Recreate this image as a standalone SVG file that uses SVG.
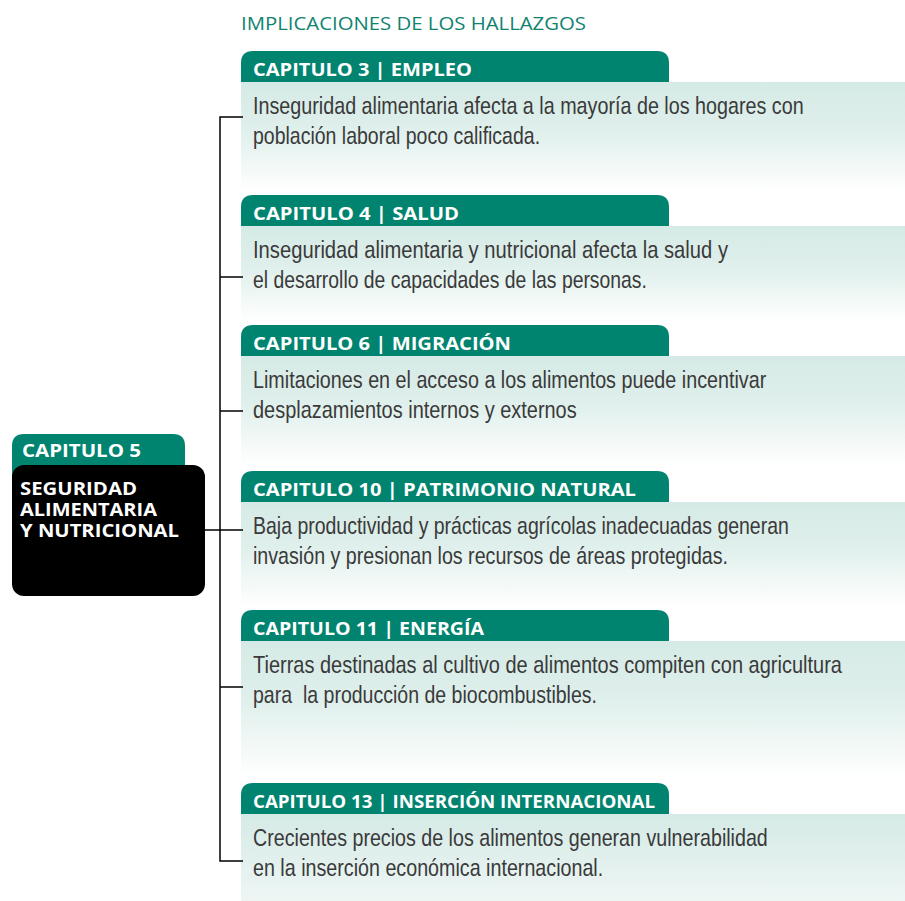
<svg xmlns="http://www.w3.org/2000/svg" width="905" height="901" viewBox="0 0 905 901">
<defs>
<linearGradient id="bodyGrad" x1="0" y1="0" x2="0" y2="1">
<stop offset="0" stop-color="#d5eae6"/>
<stop offset="0.45" stop-color="#e0f0ec"/>
<stop offset="1" stop-color="#ffffff"/>
</linearGradient>
<linearGradient id="bodyGradLast" x1="0" y1="0" x2="0" y2="1">
<stop offset="0" stop-color="#d5eae6"/>
<stop offset="1" stop-color="#eef6f4"/>
</linearGradient>
<style>
.tab{fill:#008470;}
.body{fill:url(#bodyGrad);}
.tabtxt{font-family:"Open Sans","Liberation Sans",sans-serif;font-weight:bold;font-size:18px;fill:#ffffff;}
.boxtxt{font-family:"Open Sans","Liberation Sans",sans-serif;font-weight:bold;font-size:17px;fill:#ffffff;}
.txt{font-family:"Liberation Sans","DejaVu Sans",sans-serif;font-size:24px;fill:#3a3a3a;white-space:pre;}
.title{font-family:"Open Sans","Liberation Sans",sans-serif;font-size:19px;fill:#10836f;}
.conn{stroke:#000;stroke-width:1.5;fill:none;}
</style>
</defs>
<rect width="905" height="901" fill="#ffffff"/>
<text class="title" x="241" y="30" textLength="345" lengthAdjust="spacingAndGlyphs">IMPLICACIONES DE LOS HALLAZGOS</text>

<g id="cap3">
<rect class="body" x="241" y="82" width="664" height="110"/>
<path class="tab" d="M241,82V63Q241,51 253,51H657Q669,51 669,63V82Z"/>
<text class="tabtxt" x="253" y="76" textLength="219" lengthAdjust="spacingAndGlyphs">CAPITULO 3 | EMPLEO</text>
<text class="txt" transform="translate(253,114) scale(0.78,1)" textLength="706" lengthAdjust="spacingAndGlyphs">Inseguridad alimentaria afecta a la mayoría de los hogares con</text>
<text class="txt" transform="translate(253,144) scale(0.78,1)" textLength="368" lengthAdjust="spacingAndGlyphs">población laboral poco calificada.</text>
</g>

<g id="cap4">
<rect class="body" x="241" y="226" width="664" height="96"/>
<path class="tab" d="M241,226V207Q241,195 253,195H657Q669,195 669,207V226Z"/>
<text class="tabtxt" x="253" y="220" textLength="206" lengthAdjust="spacingAndGlyphs">CAPITULO 4 | SALUD</text>
<text class="txt" transform="translate(253,258) scale(0.78,1)" textLength="609" lengthAdjust="spacingAndGlyphs">Inseguridad alimentaria y nutricional afecta la salud y</text>
<text class="txt" transform="translate(253,288) scale(0.78,1)" textLength="505" lengthAdjust="spacingAndGlyphs">el desarrollo de capacidades de las personas.</text>
</g>

<g id="cap6">
<rect class="body" x="241" y="356" width="664" height="110"/>
<path class="tab" d="M241,356V337Q241,325 253,325H657Q669,325 669,337V356Z"/>
<text class="tabtxt" x="253" y="350" textLength="258" lengthAdjust="spacingAndGlyphs">CAPITULO 6 | MIGRACIÓN</text>
<text class="txt" transform="translate(253,388) scale(0.78,1)" textLength="658" lengthAdjust="spacingAndGlyphs">Limitaciones en el acceso a los alimentos puede incentivar</text>
<text class="txt" transform="translate(253,418) scale(0.78,1)" textLength="415" lengthAdjust="spacingAndGlyphs">desplazamientos internos y externos</text>
</g>

<g id="cap10">
<rect class="body" x="241" y="502" width="664" height="104"/>
<path class="tab" d="M241,502V483Q241,471 253,471H657Q669,471 669,483V502Z"/>
<text class="tabtxt" x="253" y="496" textLength="383" lengthAdjust="spacingAndGlyphs">CAPITULO 10 | PATRIMONIO NATURAL</text>
<text class="txt" transform="translate(253,534) scale(0.78,1)" textLength="687" lengthAdjust="spacingAndGlyphs">Baja productividad y prácticas agrícolas inadecuadas generan</text>
<text class="txt" transform="translate(253,564) scale(0.78,1)" textLength="609" lengthAdjust="spacingAndGlyphs">invasión y presionan los recursos de áreas protegidas.</text>
</g>

<g id="cap11">
<rect class="body" x="241" y="641" width="664" height="136"/>
<path class="tab" d="M241,641V622Q241,610 253,610H657Q669,610 669,622V641Z"/>
<text class="tabtxt" x="253" y="635" textLength="231" lengthAdjust="spacingAndGlyphs">CAPITULO 11 | ENERGÍA</text>
<text class="txt" transform="translate(253,673) scale(0.78,1)" textLength="755" lengthAdjust="spacingAndGlyphs">Tierras destinadas al cultivo de alimentos compiten con agricultura</text>
<text class="txt" transform="translate(253,703) scale(0.78,1)" textLength="441" lengthAdjust="spacingAndGlyphs">para  la producción de biocombustibles.</text>
</g>

<g id="cap13">
<rect x="241" y="814" width="664" height="87" fill="url(#bodyGradLast)"/>
<path class="tab" d="M241,814V795Q241,783 253,783H657Q669,783 669,795V814Z"/>
<text class="tabtxt" x="253" y="808" textLength="402" lengthAdjust="spacingAndGlyphs">CAPITULO 13 | INSERCIÓN INTERNACIONAL</text>
<text class="txt" transform="translate(253,846) scale(0.78,1)" textLength="660" lengthAdjust="spacingAndGlyphs">Crecientes precios de los alimentos generan vulnerabilidad</text>
<text class="txt" transform="translate(253,876) scale(0.78,1)" textLength="449" lengthAdjust="spacingAndGlyphs">en la inserción económica internacional.</text>
</g>

<g id="cap5">
<path class="tab" d="M12,480V446Q12,434 24,434H173Q185,434 185,446V480Z"/>
<rect x="12" y="465" width="193" height="131" rx="12" ry="12" fill="#000000"/>
<text class="tabtxt" x="22" y="457" textLength="119" lengthAdjust="spacingAndGlyphs">CAPITULO 5</text>
<text class="boxtxt" x="20" y="495" textLength="117" lengthAdjust="spacingAndGlyphs">SEGURIDAD</text>
<text class="boxtxt" x="20" y="516" textLength="137" lengthAdjust="spacingAndGlyphs">ALIMENTARIA</text>
<text class="boxtxt" x="20" y="537" textLength="159" lengthAdjust="spacingAndGlyphs">Y NUTRICIONAL</text>
</g>

<g id="connectors">
<path class="conn" d="M243,117H220V861H243"/>
<path class="conn" d="M220,277H243"/>
<path class="conn" d="M220,411H243"/>
<path class="conn" d="M205,530H243"/>
<path class="conn" d="M220,687H243"/>
</g>
</svg>
